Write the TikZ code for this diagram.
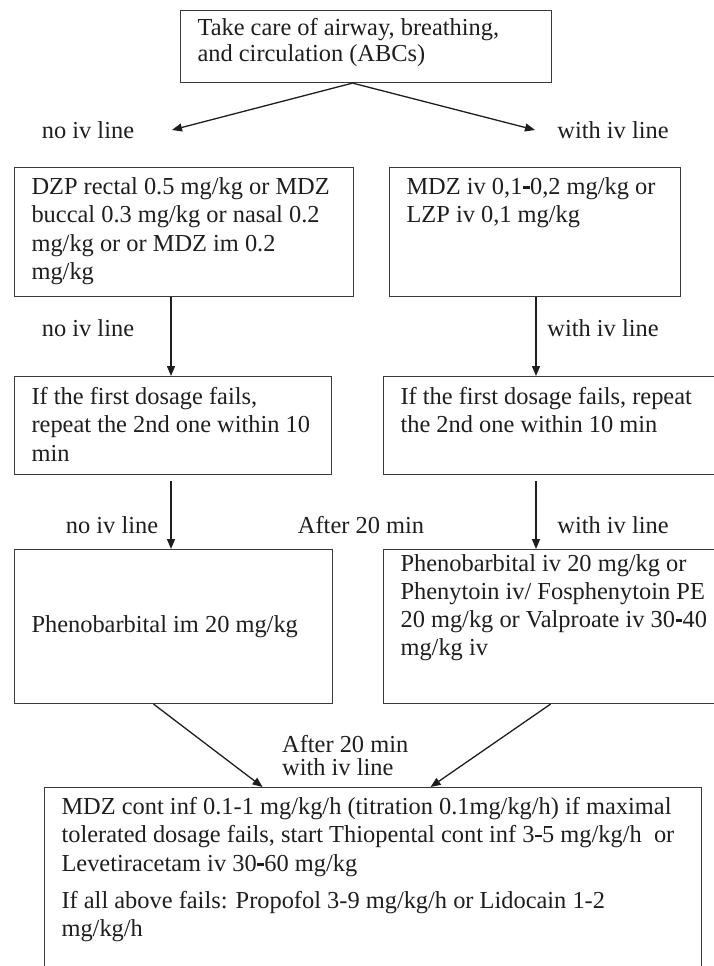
\documentclass[tikz,border=0pt]{standalone}
\usepackage{fontspec}
\setmainfont{Liberation Serif}
\usetikzlibrary{arrows.meta}
\definecolor{ink}{HTML}{1E1E1E}
\definecolor{edge}{HTML}{3A3A3A}
% box body: width, height, gap above the first line, text
\newcommand\boxbody[4]{\parbox[t][#2][t]{#1}{\raggedright\leftskip=17pt\relax\vspace*{#3}\strut#4}}
% heavy range dash
\newcommand\hdash{\kern0.6pt\rule[5.6pt]{6.5pt}{2.6pt}\kern0.6pt}
\begin{document}
\begin{tikzpicture}[x=1pt,y=-1pt,
  every node/.style={font=\fontsize{24.4}{28.3}\selectfont, text=ink},
  box/.style={draw=edge, line width=1.1pt, inner sep=0pt, anchor=north west},
  lbl/.style={inner sep=0pt},
  arr/.style={draw=ink, line width=1.3pt, -{Triangle[length=10pt,width=8pt]}}]
\useasboundingbox (0,0) rectangle (713,966);

% boxes
\node[box, font=\fontsize{24.4}{26}\selectfont] (abc) at (180,10)
  {\boxbody{371pt}{72pt}{6.8pt}{Take care of airway, breathing,\\and circulation (ABCs)}};
\node[box] (dzp) at (14,167)
  {\boxbody{339pt}{129pt}{7.2pt}{DZP rectal 0.5 mg/kg or MDZ\\buccal 0.3 mg/kg or nasal 0.2\\mg/kg or or MDZ im 0.2\\mg/kg}};
\node[box] (mdz) at (389,167)
  {\boxbody{291pt}{129pt}{7.2pt}{MDZ iv 0,1\hdash0,2 mg/kg or\\LZP iv 0,1 mg/kg}};
\node[box] (rep1) at (14,376)
  {\boxbody{317pt}{98pt}{8.2pt}{If the first dosage fails,\\repeat the 2nd one within 10\\min}};
\node[box] (rep2) at (383,376)
  {\boxbody{345pt}{98pt}{8.2pt}{If the first dosage fails, repeat\\the 2nd one within 10 min}};
\node[box] (pheno1) at (14,549)
  {\boxbody{318pt}{154pt}{63pt}{Phenobarbital im 20 mg/kg}};
\node[box, font=\fontsize{24.4}{27.7}\selectfont] (pheno2) at (383,549)
  {\boxbody{345pt}{154pt}{3pt}{Phenobarbital iv 20 mg/kg or\\Phenytoin iv/ Fosphenytoin PE\\20 mg/kg or Valproate iv 30\hdash40\\mg/kg iv}};
\node[box] (final) at (44,787)
  {\boxbody{657pt}{200pt}{7.2pt}{MDZ cont inf 0.1-1 mg/kg/h (titration 0.1mg/kg/h) if maximal\\tolerated dosage fails, start Thiopental cont inf 3\hdash5 mg/kg/h~ or\\Levetiracetam iv 30\hdash60 mg/kg\\[9pt]If all above fails: Propofol 3-9 mg/kg/h or Lidocain 1-2\\mg/kg/h}};

% branch labels
\node[lbl] (n1) at (88,130) {no iv line};
\node[lbl] (w1) at (613,130) {with iv line};
\node[lbl] (n2) at (88,328) {no iv line};
\node[lbl] (w2) at (603,328) {with iv line};
\node[lbl] (n3) at (112,525) {no iv line};
\node[lbl] (t20) at (361,525) {After 20 min};
\node[lbl] (w3) at (613,525) {with iv line};
\node[lbl, anchor=west, align=left, font=\fontsize{24.4}{23}\selectfont] (t20b) at (282,756)
  {After 20 min\\with iv line};

% connectors
\coordinate (colL) at (171,0);
\coordinate (colR) at (536,0);
\coordinate (tipL) at (172,130);
\coordinate (tipR) at (535,130);
\draw[arr] ([xshift=-13.5pt]abc.south) -- (tipL);
\draw[arr] ([xshift=-13.5pt]abc.south) -- (tipR);
\draw[arr] (dzp.south -| colL) -- (rep1.north -| colL);
\draw[arr] (mdz.south -| colR) -- (rep2.north -| colR);
\draw[arr, shorten <=6pt] (rep1.south -| colL) -- (pheno1.north -| colL);
\draw[arr, shorten <=6pt] (rep2.south -| colR) -- (pheno2.north -| colR);
\draw[arr] ([xshift=-20pt]pheno1.south) -- ([xshift=-110.5pt]final.north);
\draw[arr] ([xshift=-5.5pt]pheno2.south) -- ([xshift=57.5pt]final.north);
\end{tikzpicture}
\end{document}
